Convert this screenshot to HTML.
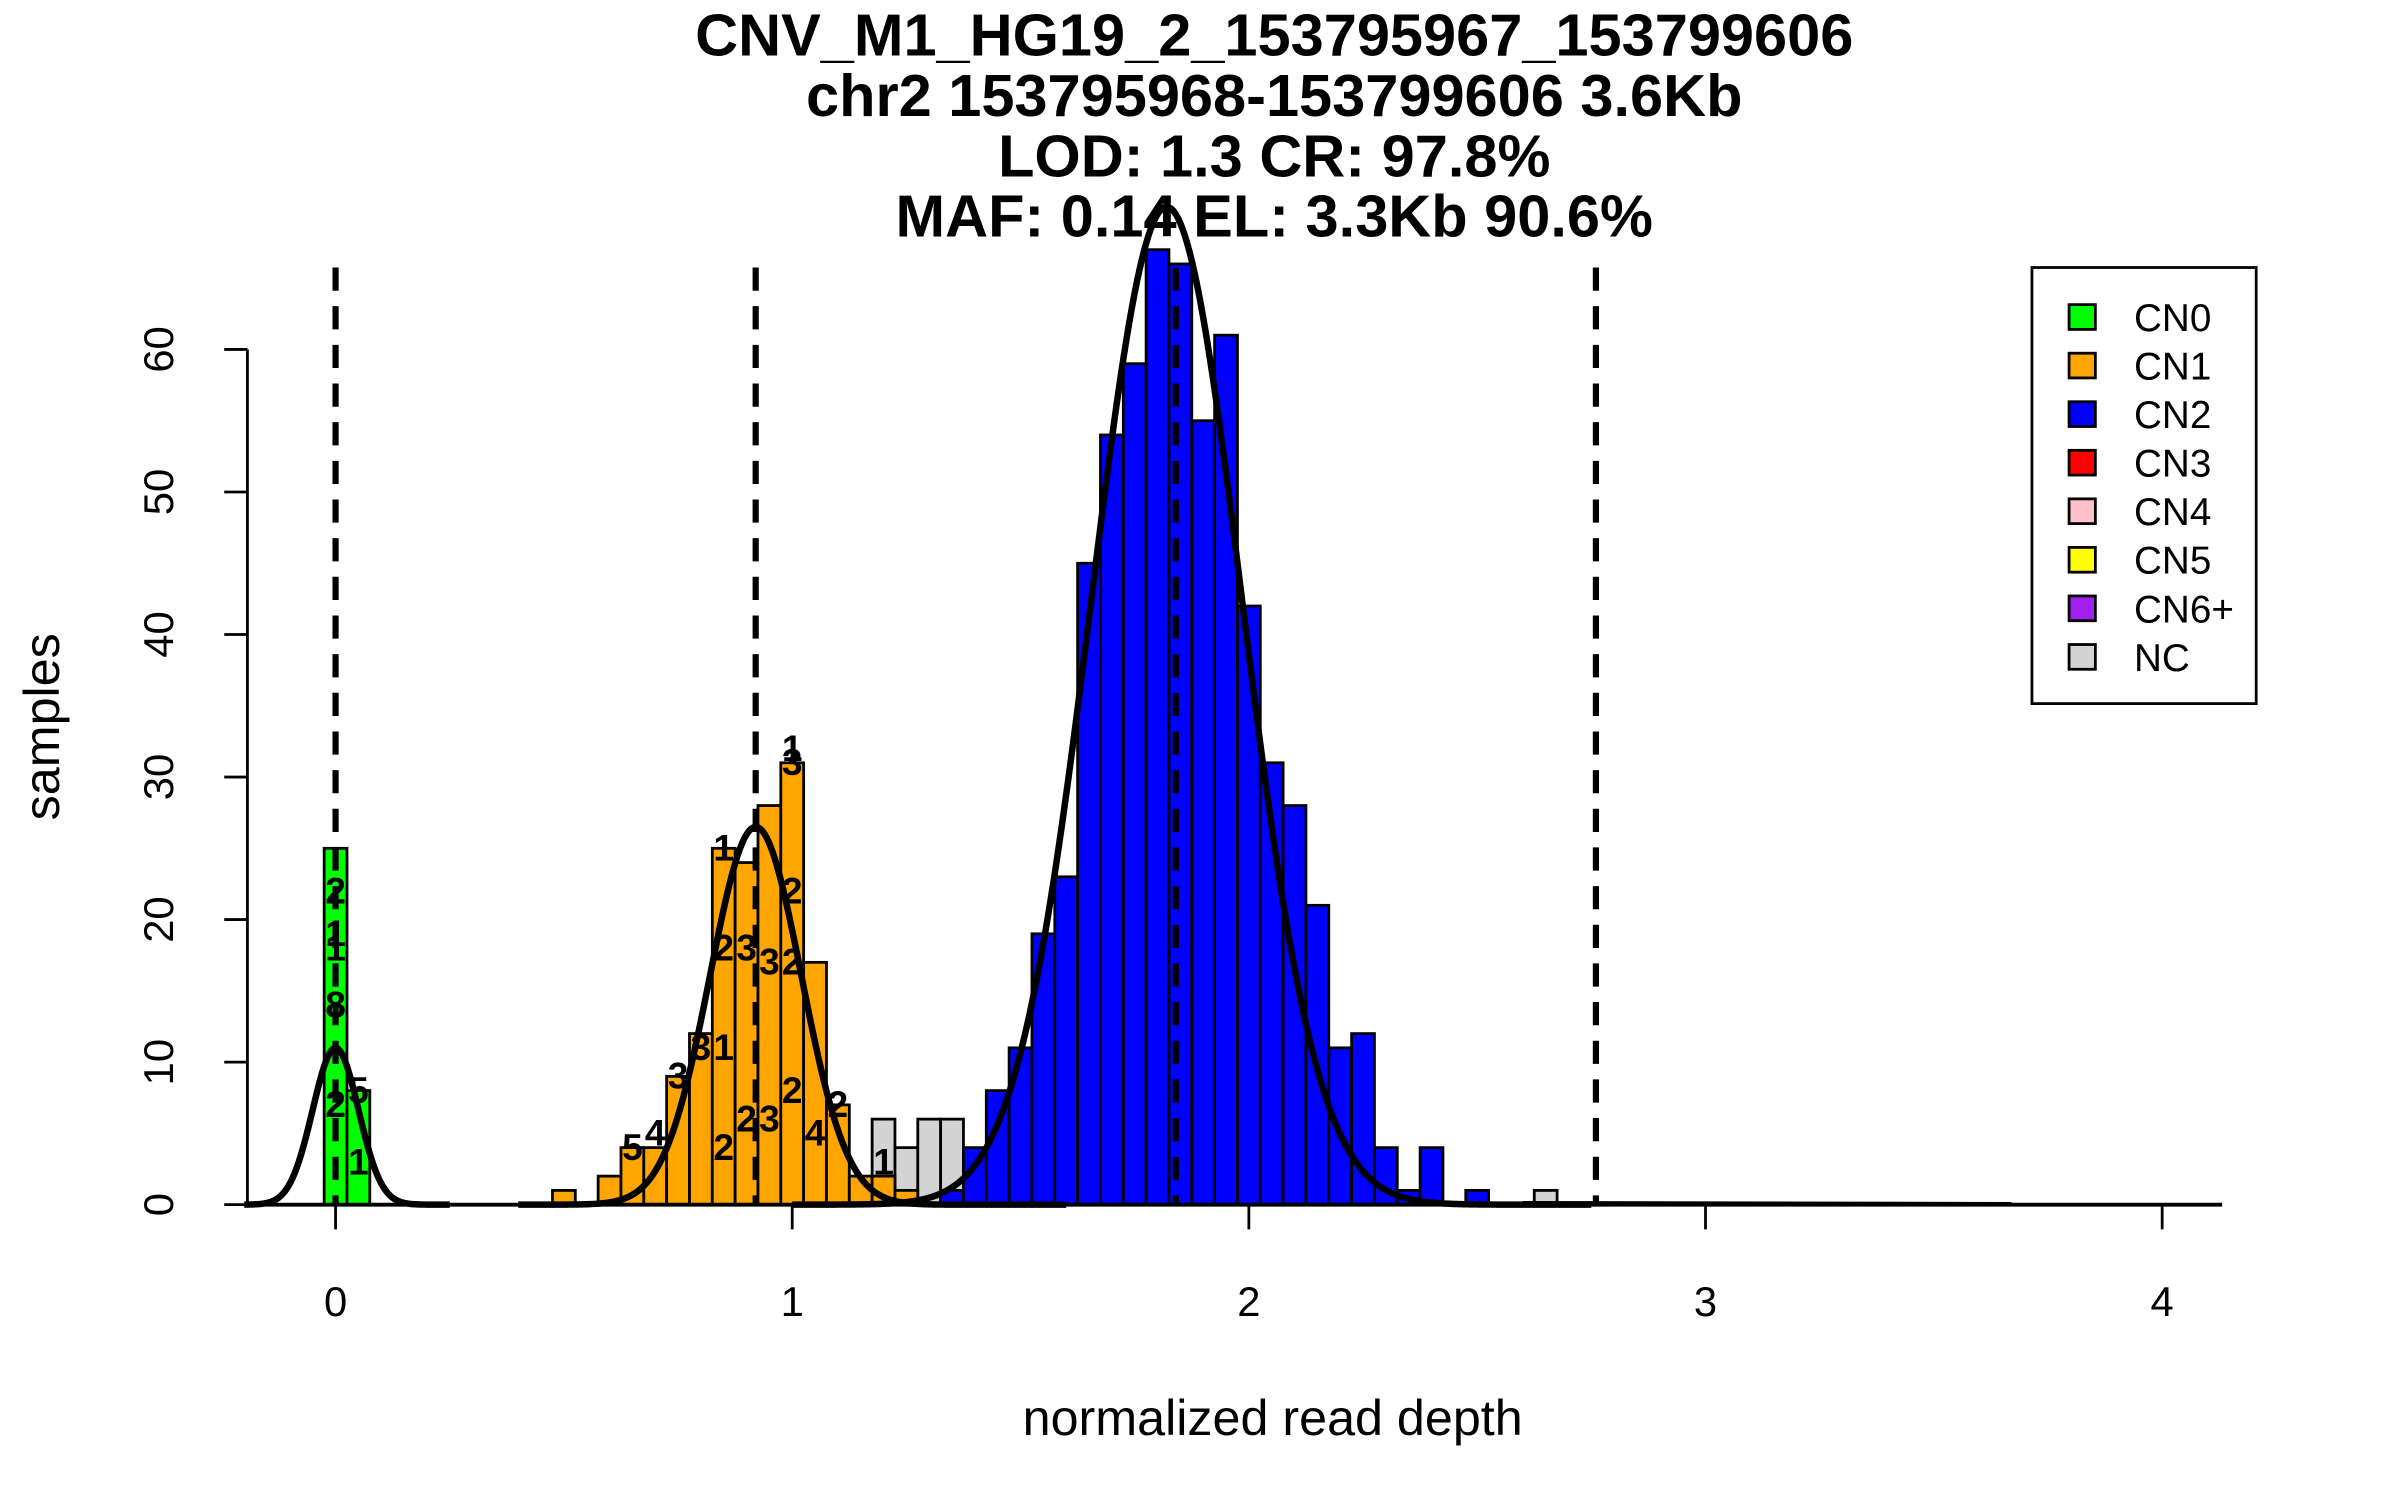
<!DOCTYPE html>
<html><head><meta charset="utf-8"><style>
html,body{margin:0;padding:0;background:#fff;}
svg{display:block;font-family:"Liberation Sans",Arial,sans-serif;}
</style></head><body>
<svg id="chart" width="2400" height="1500" viewBox="0 0 1552 970" xmlns="http://www.w3.org/2000/svg">
<g font-weight="bold" font-size="38.5" text-anchor="middle">
<text x="824" y="36">CNV_M1_HG19_2_153795967_153799606</text>
<text x="824" y="75">chr2 153795968-153799606 3.6Kb</text>
<text x="824" y="114">LOD: 1.3 CR: 97.8%</text>
<text x="824" y="153">MAF: 0.14 EL: 3.3Kb 90.6%</text>
</g>
<g id="bars"></g>
<g id="labels" font-weight="bold" font-size="24" text-anchor="middle"></g>
<g id="curves"></g>
<g id="vlines"></g>
<g id="axes"></g>
<g>
<rect x="1314" y="173" width="145" height="282" fill="#fff" stroke="#000" stroke-width="1.8"/>
<g id="legend-items"></g>
</g>
<text x="823" y="928" font-size="32.5" text-anchor="middle">normalized read depth</text>
<text x="0" y="0" font-size="32.5" text-anchor="middle" transform="translate(38,470) rotate(-90)">samples</text>
</svg>
<script>
const binWidth = 0.05;
const binCenters = [0,0.05,0.5,0.6,0.65,0.7,0.75,0.8,0.85,0.9,0.95,1.0,1.05,1.1,1.15,1.2,1.25,1.3,1.35,1.4,1.45,1.5,1.55,1.6,1.65,1.7,1.75,1.8,1.85,1.9,1.95,2.0,2.05,2.1,2.15,2.2,2.25,2.3,2.35,2.4,2.5,2.65];
const countsNC  = [0,0,0,0,0,0,0,0,0,0,0,0,0,0,0,6,4,6,6,0,0,0,0,0,0,0,0,0,0,0,0,0,0,0,0,0,0,0,0,0,0,1];
const countsCN0 = [25,8,0,0,0,0,0,0,0,0,0,0,0,0,0,0,0,0,0,0,0,0,0,0,0,0,0,0,0,0,0,0,0,0,0,0,0,0,0,0,0,0];
const countsCN1 = [0,0,1,2,4,4,9,12,25,24,28,31,17,7,2,2,1,0,0,0,0,0,0,0,0,0,0,0,0,0,0,0,0,0,0,0,0,0,0,0,0,0];
const countsCN2 = [0,0,0,0,0,0,0,0,0,0,0,0,0,0,0,0,0,0,1,4,8,11,19,23,45,54,59,67,66,55,61,42,31,28,21,11,12,4,1,4,1,0];
const cnMeans = [0, 0.92, 1.84, 2.76];
const curveMeans = [0, 0.92, 1.82];
const curveSds = [0.05, 0.1, 0.165];
const curvePeaks = [11, 26.5, 70];
const xTicks = [0,1,2,3,4];
const yTicks = [0,10,20,30,40,50,60];
const legendLabels = ["CN0","CN1","CN2","CN3","CN4","CN5","CN6+","NC"];
const legendColors = ["#00ff00","#ffa500","#0000ff","#ff0000","#ffc0cb","#ffff00","#a020f0","#d3d3d3"];
const labelX = [0,0,0,0,0,0.05,0.05,0.85,0.85,0.85,0.85,0.9,0.9,0.95,0.95,1.0,1.0,1.0,1.0,1.0,1.05,1.1,0.75,0.8,0.7,0.65,1.2];
const labelY = [19,22,18,14,7,8,3,25,18,11,4,18,6,17,6,32,31,22,17,8,5,7,9,11,5,4,3];
const labelText = ["1","2","1","8","2","5","1","1","2","1","2","3","2","3","3","1","3","2","2","2","4","2","3","3","4","5","1"];

const X = v => 217 + v * 295.3;
const Y = c => 779 - c * 9.217;
const NS = "http://www.w3.org/2000/svg";
function mk(tag, attrs, parent){ const e=document.createElementNS(NS,tag); for(const k in attrs) e.setAttribute(k,attrs[k]); parent.appendChild(e); return e; }

const barsG = document.getElementById('bars');
const series = [[countsNC,"#d3d3d3","nc"],[countsCN0,"#00ff00","cn0"],[countsCN1,"#ffa500","cn1"],[countsCN2,"#0000ff","cn2"]];
series.forEach(s => {
  binCenters.forEach((c,i) => {
    const v = s[0][i]; if(!v) return;
    const r = mk('rect',{x:X(c-binWidth/2),y:Y(v),width:X(binWidth)-X(0),height:Y(0)-Y(v),fill:s[1],stroke:"#000","stroke-width":1.8},barsG);
    
    
  });
});

const labG = document.getElementById('labels');
labelText.forEach((t,i) => {
  const e = mk('text',{x:X(labelX[i]),y:Y(labelY[i])+8},labG);
  e.textContent = t;
  
  
});

const curG = document.getElementById('curves');
const ranges = [[-0.2,0.25],[0.4,1.6],[1.0,2.75]];
curveMeans.forEach((m,k) => {
  let d = "";
  for(let x=ranges[k][0]; x<=ranges[k][1]+1e-9; x+=0.005){
    const y = curvePeaks[k]*Math.exp(-0.5*Math.pow((x-m)/curveSds[k],2));
    d += (d?"L":"M") + X(x).toFixed(2) + "," + Y(y).toFixed(2);
  }
  const p = mk('path',{d:d,fill:"none",stroke:"#000","stroke-width":4.2},curG);
  
  
});
const tail = mk('path',{d:"M"+X(2.6)+","+Y(0.12)+"L"+X(3.67)+","+Y(0.05),fill:"none",stroke:"#000","stroke-width":2.5},curG);



const vG = document.getElementById('vlines');
cnMeans.forEach(m => {
  const l = mk('line',{x1:X(m),x2:X(m),y1:173,y2:779,stroke:"#000","stroke-width":4,"stroke-dasharray":"15,10"},vG);
  
  
});

const aG = document.getElementById('axes');
const base = mk('line',{x1:160,x2:1437,y1:779,y2:779,stroke:"#000","stroke-width":2.5},aG);


xTicks.forEach(t => {
  const l = mk('line',{x1:X(t),x2:X(t),y1:779,y2:795,stroke:"#000","stroke-width":1.8},aG);
  
  
  const tx = mk('text',{x:X(t),y:851,"font-size":27,"text-anchor":"middle"},aG);
  tx.textContent = t;
  
  
});
const yl = mk('line',{x1:160,x2:160,y1:Y(60),y2:Y(0),stroke:"#000","stroke-width":1.8},aG);


yTicks.forEach(t => {
  const l = mk('line',{x1:145,x2:160,y1:Y(t),y2:Y(t),stroke:"#000","stroke-width":1.8},aG);
  
  
  const tx = mk('text',{x:0,y:0,"font-size":27,"text-anchor":"middle",transform:"translate(112,"+Y(t)+") rotate(-90)"},aG);
  tx.textContent = t;
  
  
});

const lG = document.getElementById('legend-items');
legendLabels.forEach((lab,i) => {
  const y = 205 + i*31.4;
  const r = mk('rect',{x:1338,y:y-8,width:17,height:16,fill:legendColors[i],stroke:"#000","stroke-width":1.8},lG);
  
  
  const t = mk('text',{x:1380,y:y+9,"font-size":25},lG);
  t.textContent = lab;
  
  
});
</script>
</body></html>
